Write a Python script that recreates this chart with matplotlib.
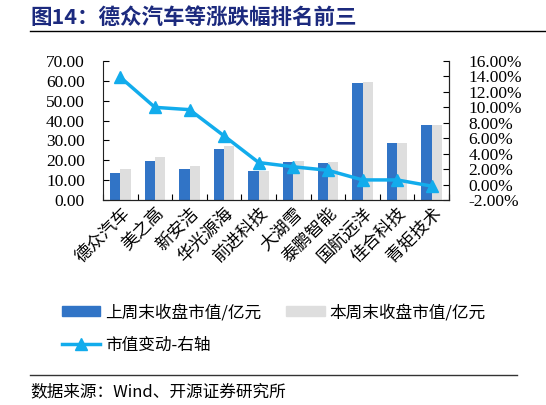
import numpy as np
import matplotlib
matplotlib.use('Agg')
import matplotlib.pyplot as plt
from matplotlib.lines import Line2D
from matplotlib.patches import Patch

plt.rcParams['font.family'] = ['Liberation Serif', 'Noto Sans CJK SC', 'DejaVu Sans']
SERIF = ['Liberation Serif']
CJK = ['Noto Sans CJK SC', 'Liberation Serif']

# ── Data ─────────────────────────────────────────────
names = ['德众汽车', '美之高', '新安洁', '华光源海', '前进科技',
         '大湖雪', '泰鹏智能', '国航远洋', '佳合科技', '青矩技术']
last_week = [13.7, 19.7, 15.5, 25.5, 14.5, 19.3, 18.7, 58.7, 28.7, 37.7]
this_week = [15.7, 21.8, 17.0, 27.0, 14.8, 19.7, 19.0, 59.2, 28.8, 37.7]
change_pct = [13.9, 10.0, 9.7, 6.3, 2.85, 2.3, 1.85, 0.6, 0.6, -0.2]

BLUE = '#3174C6'
GREY = '#DEDEDE'
CYAN = '#12ACEC'
NAVY = '#1C2A7E'

fig = plt.figure(figsize=(5.46, 4.05), dpi=100)
ax = fig.add_axes([103/546, 1-200/405, 346/546, 139/405])
x = np.arange(len(names))
w = 0.3
ax.bar(x - w/2, last_week, w, color=BLUE, zorder=2)
ax.bar(x + w/2, this_week, w, color=GREY, zorder=2)
ax.set_xlim(-0.5, len(names) - 0.5)
ax.set_ylim(0, 70)
yt = np.arange(0, 71, 10)
ax.set_yticks(yt)
ax.set_yticklabels([f'{v:.2f}' for v in yt], fontsize=12.5, family=SERIF)
ax.tick_params(axis='y', direction='in', length=4, pad=13)

# category ticks between groups, labels at centres
ax.set_xticks(np.arange(-0.5, len(names), 1.0))
ax.set_xticklabels([])
ax.tick_params(axis='x', direction='in', length=4)
ax.set_xticks(x, minor=True)
ax.set_xticklabels(names, minor=True, rotation=45, ha='right', va='top',
                   rotation_mode='anchor', fontsize=12.5, family=CJK)
ax.tick_params(axis='x', which='minor', length=0, pad=3)
ax.spines['top'].set_visible(False)
for s in ax.spines.values():
    s.set_color('#222222')

ax2 = ax.twinx()
ax2.plot(x, change_pct, color=CYAN, lw=2.5, marker='^', ms=9, zorder=3)
ax2.set_ylim(-2, 16)
rt = np.arange(-2, 17, 2)
ax2.set_yticks(rt)
ax2.set_yticklabels([f'{v:.2f}%' for v in rt], fontsize=12.5, family=SERIF)
ax2.tick_params(axis='y', direction='in', length=4, pad=14)
ax2.spines['top'].set_visible(False)
ax2.spines['left'].set_visible(False)
for s in ax2.spines.values():
    s.set_color('#222222')

# ── Title & lines ────────────────────────────────────
fig.text(30/546, 1-17/405, '图14：德众汽车等涨跌幅排名前三', fontsize=15.5,
         fontweight='bold', color=NAVY, va='center', ha='left',
         family=['Noto Sans CJK SC'])
fig.add_artist(Line2D([30/546, 1.0], [1-31/405, 1-31/405], color='black', lw=1))
fig.add_artist(Line2D([30/546, 517/546], [1-375/405, 1-375/405], color='#333333', lw=1))
fig.text(30/546, 1-392/405, '数据来源：Wind、开源证券研究所', fontsize=12,
         va='center', ha='left', family=CJK)

# ── Legend ───────────────────────────────────────────
handles = [Patch(color=BLUE), Line2D([], [], color=CYAN, lw=2.5, marker='^', ms=9),
           Patch(color=GREY)]
labels = ['上周末收盘市值/亿元', '市值变动-右轴', '本周末收盘市值/亿元']
fig.legend(handles, labels, ncol=2, loc='upper left',
           bbox_to_anchor=(47/546, 1-289/405), frameon=False,
           prop={'family': 'Noto Sans CJK SC', 'size': 12},
           handlelength=2.3, handleheight=0.55, handletextpad=0.3,
           columnspacing=1.5, labelspacing=0.95)

fig.savefig('out.png', dpi=100, facecolor='white')
